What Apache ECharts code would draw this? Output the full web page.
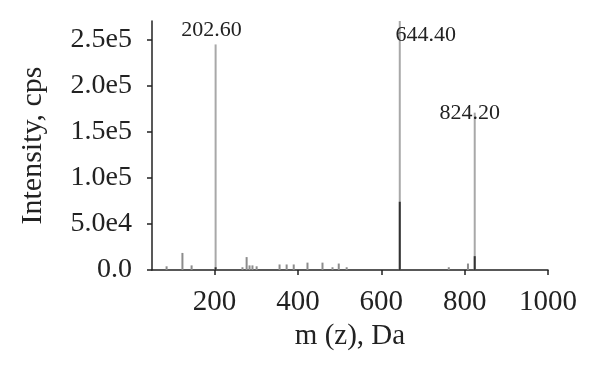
<!DOCTYPE html>
<html>
<head>
<meta charset="utf-8">
<script src="https://cdn.jsdelivr.net/npm/echarts@6/dist/echarts.min.js"></script>
<style>
  html, body { margin: 0; padding: 0; background: #fff; }
  #main { width: 600px; height: 380px; }
</style>
</head>
<body>
<div id="main"></div>
<script>
// main peaks (light grey lines)
const majorMz = [202.6, 644.4, 824.2];
const majorInt = [244600, 270000, 170600];
const majorLabels = ['202.60', '644.40', '824.20'];

// small peaks near the baseline
const minorMz = [85, 123, 145, 267, 277, 284, 291, 301, 356, 373, 390, 423, 459, 483, 498, 517, 762, 808];
const minorInt = [4000, 18500, 5000, 3000, 14000, 5000, 5000, 4000, 6000, 6000, 6000, 8000, 8000, 3000, 7000, 3000, 3000, 7000];

// dark overlaid peaks
const darkMz = [202.6, 644.4, 824.2];
const darkInt = [3000, 74000, 15000];

const xTicks = [200, 400, 600, 800, 1000];
const yTicks = [0, 50000, 100000, 150000, 200000, 250000];

const font = 'Liberation Serif';
const ink = '#222';

const labelOffsets = [[-4, 2], [26, 30], [-5, 17]];

const pairs = (xs, ys) => xs.map((x, i) => [x, ys[i]]);

const chart = echarts.init(document.getElementById('main'));
chart.setOption({
	animation: false,
	grid: { left: 152, right: 52, top: 21, bottom: 110 },
	xAxis: {
		type: 'value',
		min: 50,
		max: 1000,
		name: 'm (z), Da',
		nameLocation: 'middle',
		nameGap: 48,
		nameTextStyle: { fontFamily: font, fontSize: 29, color: ink },
		splitLine: { show: false },
		axisLine: { lineStyle: { color: ink, width: 1.5 } },
		axisTick: { customValues: xTicks, length: 5, lineStyle: { color: ink, width: 1.5 } },
		axisLabel: {
			customValues: xTicks,
			margin: 18,
			fontFamily: font,
			fontSize: 29,
			color: ink,
			formatter: v => String(v)
		}
	},
	yAxis: {
		type: 'value',
		min: 0,
		max: 270000,
		name: 'Intensity, cps',
		nameLocation: 'middle',
		nameGap: 104,
		nameTextStyle: { fontFamily: font, fontSize: 30, color: ink },
		splitLine: { show: false },
		axisLine: { show: true, lineStyle: { color: ink, width: 1.5 } },
		axisTick: { show: true, customValues: yTicks, length: 5, lineStyle: { color: ink, width: 1.5 } },
		axisLabel: {
			customValues: yTicks,
			margin: 20,
			fontFamily: font,
			fontSize: 28,
			color: ink,
			formatter: v => v === 0 ? '0.0' : v.toExponential(1).replace('+', '')
		}
	},
	series: [
		{
			type: 'bar',
			barWidth: 2,
			barGap: '-100%',
			itemStyle: { color: '#8c8c8c' },
			data: pairs(minorMz, minorInt)
		},
		{
			type: 'bar',
			barWidth: 2,
			barGap: '-100%',
			itemStyle: { color: '#a8a8a8' },
			data: majorMz.map((x, i) => ({
				value: [x, majorInt[i]],
				label: {
					show: true,
					position: 'top',
					offset: labelOffsets[i],
					formatter: majorLabels[i],
					fontFamily: font,
					fontSize: 22,
					color: ink
				}
			}))
		},
		{
			type: 'bar',
			barWidth: 2,
			barGap: '-100%',
			itemStyle: { color: '#333' },
			data: pairs(darkMz, darkInt)
		}
	]
});
</script>
</body>
</html>
